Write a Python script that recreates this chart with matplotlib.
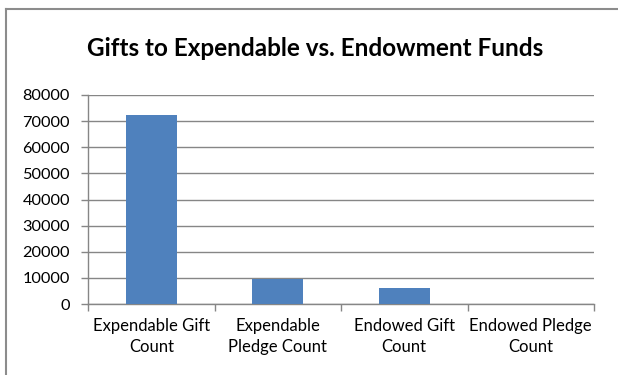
import matplotlib
matplotlib.use('Agg')
import matplotlib.pyplot as plt
from matplotlib.lines import Line2D

# --- data ---
categories = ['Expendable Gift\nCount', 'Expendable\nPledge Count',
              'Endowed Gift\nCount', 'Endowed Pledge\nCount']
counts = [72500, 9600, 6000, 0]
yticks = [0, 10000, 20000, 30000, 40000, 50000, 60000, 70000, 80000]

# --- drawing ---
plt.rcParams['font.family'] = ['Lato', 'DejaVu Sans']
grey = '#868686'

fig = plt.figure(figsize=(6.18, 3.75), dpi=100)
ax = fig.add_axes([88/618, 1 - 304/375, (594 - 88)/618, (304 - 95)/375])

xx = range(len(categories))
ax.bar(xx, counts, width=0.4, color='#4F81BD', zorder=3)

ax.set_xlim(-0.5, len(categories) - 0.5)
ax.set_ylim(0, 80000)
ax.set_yticks(yticks)
ax.set_yticklabels([str(v) for v in yticks])
ax.yaxis.grid(True, color=grey, linewidth=1.0, zorder=0)

# category ticks sit between the bars
ax.set_xticks([i - 0.5 for i in range(len(categories) + 1)], minor=False)
ax.set_xticklabels([])
ax.set_xticks(list(xx), minor=True)
ax.set_xticklabels(categories, minor=True, linespacing=1.4)
ax.tick_params(axis='x', which='minor', length=0, pad=10, labelsize=12)
ax.tick_params(axis='x', which='major', length=5, color=grey, width=1.0)
ax.tick_params(axis='y', length=5, color=grey, width=1.0, pad=8, labelsize=11.8)

for side in ('top', 'right'):
    ax.spines[side].set_visible(False)
for side in ('left', 'bottom'):
    ax.spines[side].set_color(grey)
    ax.spines[side].set_linewidth(1.0)

fig.text(315/618, 1 - 48/375, 'Gifts to Expendable vs. Endowment Funds',
         ha='center', va='center', fontsize=17.5, fontweight='bold')

# chart-area border (top and left edges)
fig.add_artist(Line2D([5.5/618, 1.0], [1 - 8.5/375, 1 - 8.5/375],
                      transform=fig.transFigure, color='#8c8c8c', linewidth=1.5))
fig.add_artist(Line2D([5.5/618, 5.5/618], [0.0, 1 - 8.5/375],
                      transform=fig.transFigure, color='#8c8c8c', linewidth=1.5))

fig.savefig('out.png', dpi=100)
